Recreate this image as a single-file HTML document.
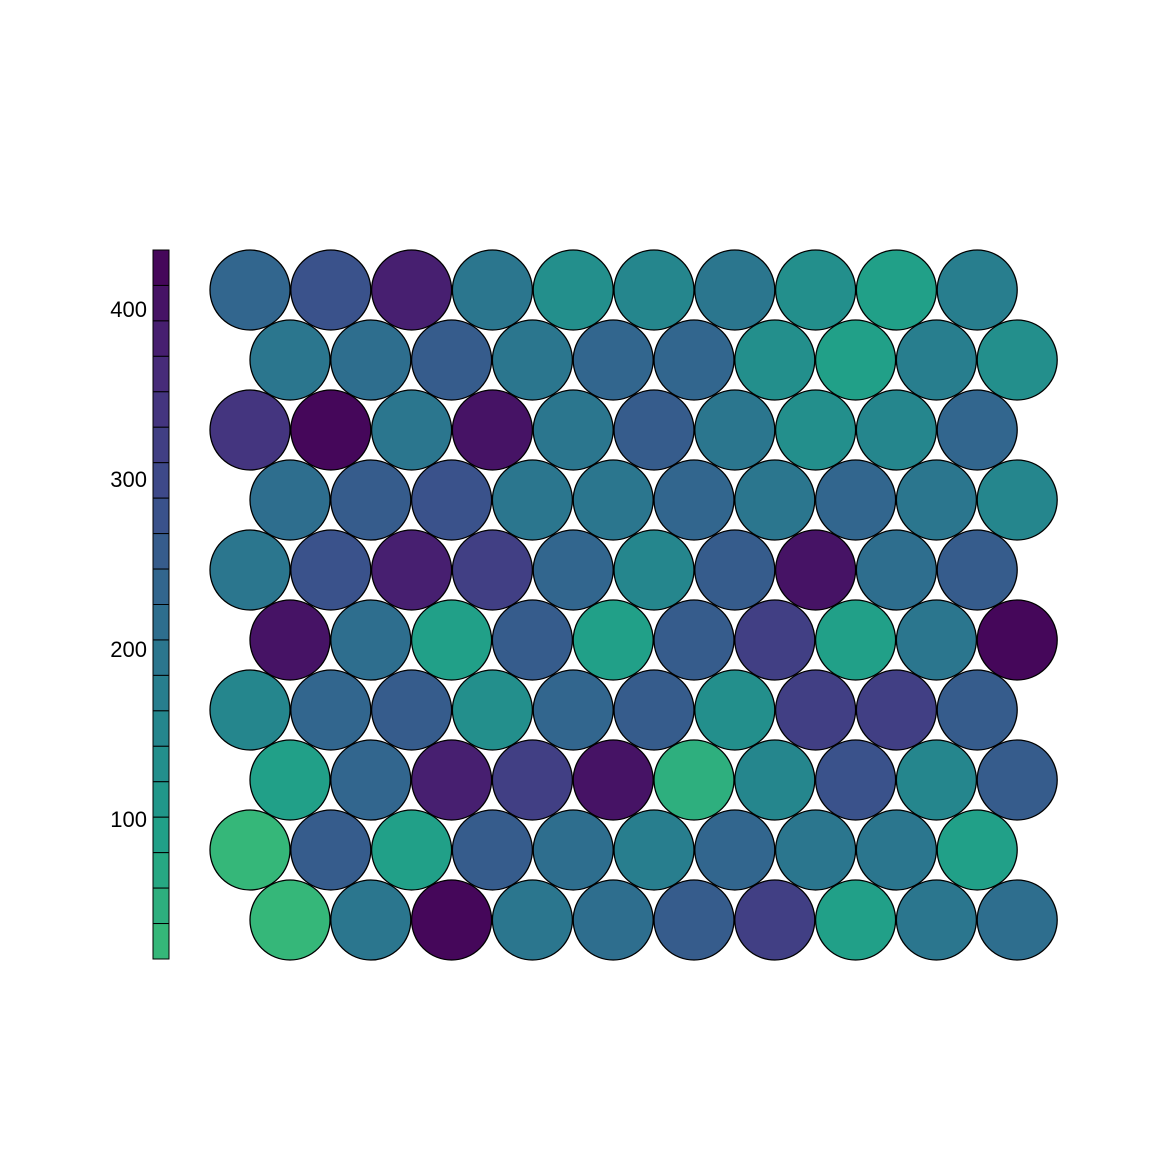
<!DOCTYPE html>
<html><head><meta charset="utf-8"><style>
html,body{margin:0;padding:0;background:#fff;}
svg{display:block;font-family:"Liberation Sans",Arial,sans-serif;}
</style></head><body>
<svg id="chart" width="1152" height="1152" viewBox="0 0 1152 1152">
<g id="cbar"></g>
<g id="cells"></g>
</svg>
<script>
// values per row (top to bottom), 10 cells each
const row1 = [233,282,374,202,128,153,202,128,98,178];
const row2 = [190,220,251,202,233,233,128,98,178,128];
const row3 = [343,435,202,398,190,263,202,128,153,233];
const row4 = [214,251,288,202,190,239,202,233,202,159];
const row5 = [190,288,374,312,239,147,251,398,220,251];
const row6 = [398,220,86,251,86,251,312,86,202,435];
const row7 = [159,239,251,128,233,251,128,312,325,251];
const row8 = [98,233,374,312,398,55,153,288,153,251];
const row9 = [30,251,98,263,220,178,233,190,202,98];
const row10 = [30,190,435,202,214,251,312,98,190,214];
const rows = [row1,row2,row3,row4,row5,row6,row7,row8,row9,row10];
const tickValues = [100,200,300,400];
const tickLabels = ["100","200","300","400"];
const vMin = 17.6, vMax = 434.7, nBins = 20;

const NS = "http://www.w3.org/2000/svg";
const stops = [[0,[68,1,84]],[0.1,[72,40,120]],[0.2,[62,73,137]],[0.3,[49,104,142]],[0.4,[38,130,142]],[0.5,[31,158,137]],[0.6,[53,183,121]],[0.7,[110,206,88]]];
function viridis(t){
  for(let i=0;i<stops.length-1;i++){
    const a=stops[i],b=stops[i+1];
    if(t<=b[0]){const f=(t-a[0])/(b[0]-a[0]);
      return `rgb(${a[1].map((c,k)=>Math.round(c+(b[1][k]-c)*f)).join(',')})`;}
  }
  return `rgb(${stops[stops.length-1][1].join(',')})`;
}
const tMax = 0.615;
function binOf(v){let b=Math.floor((vMax-v)/(vMax-vMin)*nBins);return Math.max(0,Math.min(nBins-1,b));}
function colorOf(v){return viridis((binOf(v)+0.5)/nBins*tMax);}
const barTop=250, barBot=959, barX=153, barW=16;
function yScale(v){return barBot-(v-vMin)/(vMax-vMin)*(barBot-barTop);}

const cb=document.getElementById('cbar');
for(let i=0;i<nBins;i++){
  const r=document.createElementNS(NS,'rect');
  const h=(barBot-barTop)/nBins;
  r.setAttribute('x',barX);r.setAttribute('y',barTop+i*h);
  r.setAttribute('width',barW);r.setAttribute('height',h);
  r.setAttribute('fill',viridis((i+0.5)/nBins*tMax));
  r.setAttribute('stroke','#000');r.setAttribute('stroke-width','1');
  
  
  cb.appendChild(r);
}
tickValues.forEach((v,i)=>{
  const t=document.createElementNS(NS,'text');
  t.setAttribute('x',147);t.setAttribute('y',yScale(v)+8);
  t.setAttribute('text-anchor','end');t.setAttribute('font-size','22');
  t.textContent=tickLabels[i];
  
  
  cb.appendChild(t);
});
const cells=document.getElementById('cells');
rows.forEach((row,ri)=>{
  const y=290+ri*70, x0=(ri%2===0)?250:290;
  row.forEach((v,ci)=>{
    const c=document.createElementNS(NS,'circle');
    c.setAttribute('cx',x0+ci*80.8);c.setAttribute('cy',y);c.setAttribute('r',40);
    c.setAttribute('fill',colorOf(v));c.setAttribute('stroke','#000');c.setAttribute('stroke-width','1.3');
    
    
    cells.appendChild(c);
  });
});
</script>
</body></html>
